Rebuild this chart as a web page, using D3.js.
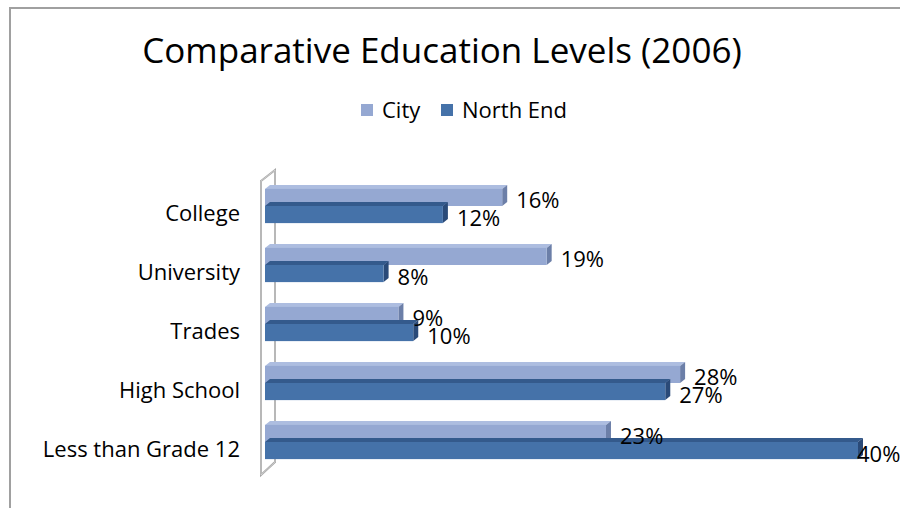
<!DOCTYPE html>
<html>
<head>
<meta charset="utf-8">
<script src="https://cdn.jsdelivr.net/npm/d3@7"></script>
<style>
  body { margin: 0; background: #fff; }
  text { font-family: "Open Sans", Lato, sans-serif; fill: #000; }
</style>
</head>
<body>
<div id="chart"></div>
<script>
const categories = ['College', 'University', 'Trades', 'High School', 'Less than Grade 12'];
const series = ['City', 'North End'];
const cityValues = [16, 19, 9, 28, 23];
const northEndValues = [12, 8, 10, 27, 40];

const width = 900, height = 508;
const colors = {
    'City': {front: '#95a8d2', top: '#adbde0', side: '#6c7fa8'},
    'North End': {front: '#4572a9', top: '#345a8c', side: '#2a4a78'}
};

const svg = d3.select('#chart')
    .append('svg')
    .attr('width', width)
    .attr('height', height);

// chart area border
svg.append('path')
    .attr('d', 'M10,' + height + 'V8H' + width)
    .attr('fill', 'none')
    .attr('stroke', '#a0a0a0')
    .attr('stroke-width', 2);

svg.append('text')
    .attr('x', 442)
    .attr('y', 63)
    .attr('text-anchor', 'middle')
    .style('font-size', '35px')
    .text('Comparative Education Levels (2006)');

// legend
const legend = svg.append('g').attr('transform', 'translate(361,0)');
const legendX = [0, 80];
series.forEach(function(s, i) {
    legend.append('rect')
        .attr('x', legendX[i])
        .attr('y', 104)
        .attr('width', 12)
        .attr('height', 12)
        .attr('fill', colors[s].front);
    legend.append('text')
        .attr('x', legendX[i] + 21)
        .attr('y', 118)
        .style('font-size', '22px')
        .text(s);
});

const x = d3.scaleLinear()
    .domain([0, 40])
    .range([265, 858]);

const y = d3.scaleBand()
    .domain(categories)
    .range([176.5, 471.5])
    .paddingInner(0.42)
    .paddingOuter(0.21);

const sub = d3.scaleBand()
    .domain(series)
    .range([0, y.bandwidth()]);

// side wall
svg.append('path')
    .attr('d', 'M261,181L275,170L275,462L261,475Z')
    .attr('fill', '#fff')
    .attr('stroke', '#a6a6a6')
    .attr('stroke-width', 2);
svg.append('path')
    .attr('d', 'M261,181L275,170L275,462L261,475Z')
    .attr('fill', 'none')
    .attr('stroke', '#e4e4e4')
    .attr('stroke-width', 0.6);

const dx = 5, dy = 4;

const rows = [];
categories.forEach(function(c, i) {
    rows.push({cat: c, s: 'City', v: cityValues[i]});
    rows.push({cat: c, s: 'North End', v: northEndValues[i]});
});

const bars = svg.append('g');
rows.forEach(function(d) {
    const x0 = x(0), x1 = x(d.v);
    const y0 = y(d.cat) + sub(d.s);
    const h = sub.bandwidth();
    const g = bars.append('g');
    g.append('path')
        .attr('d', 'M' + x0 + ',' + y0 + 'L' + (x0 + dx) + ',' + (y0 - dy) + 'L' + (x1 + dx) + ',' + (y0 - dy) + 'L' + x1 + ',' + y0 + 'Z')
        .attr('fill', colors[d.s].top);
    g.append('path')
        .attr('d', 'M' + x1 + ',' + y0 + 'L' + (x1 + dx) + ',' + (y0 - dy) + 'L' + (x1 + dx) + ',' + (y0 + h - dy) + 'L' + x1 + ',' + (y0 + h) + 'Z')
        .attr('fill', colors[d.s].side);
    g.append('rect')
        .attr('x', x0)
        .attr('y', y0)
        .attr('width', x1 - x0)
        .attr('height', h)
        .attr('fill', colors[d.s].front);
});

// data labels
svg.append('g').selectAll('text')
    .data(rows)
    .enter()
    .append('text')
    .attr('x', d => Math.min(x(d.v) + 14, 857))
    .attr('y', d => y(d.cat) + sub(d.s) + sub.bandwidth() / 2 + 11)
    .style('font-size', '22px')
    .text(d => d.v + '%');

// category labels
svg.append('g').selectAll('text')
    .data(categories)
    .enter()
    .append('text')
    .attr('x', 240)
    .attr('y', d => y(d) + y.bandwidth() / 2 + 15)
    .attr('text-anchor', 'end')
    .style('font-size', '22px')
    .text(d => d);
</script>
</body>
</html>
